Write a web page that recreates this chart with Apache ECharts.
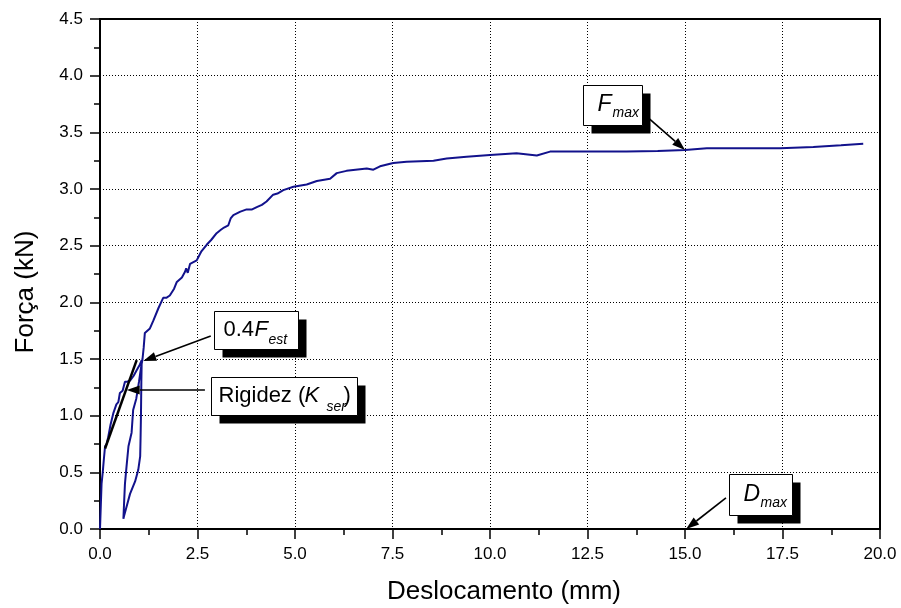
<!DOCTYPE html>
<html>
<head>
<meta charset="utf-8">
<script src="https://cdn.jsdelivr.net/npm/echarts@6/dist/echarts.min.js"></script>
<style>
html,body{margin:0;padding:0;background:#fff;}
#c{width:901px;height:608px;}
</style>
</head>
<body>
<div id="c"></div>
<script>
// ---- data ----
const xVals = [0.0,0.02,0.04,0.07,0.10,0.13,0.17,0.21,0.27,0.30,0.34,0.42,0.47,0.51,0.58,0.64,0.70,0.77,0.86,0.94,1.02,1.07,
  1.06,1.05,1.04,1.03,0.98,0.90,0.77,0.70,0.62,0.60,
  0.62,0.64,0.68,0.73,0.76,0.81,0.85,0.93,1.00,1.05,1.09,
  1.12,1.15,1.20,1.28,1.37,1.50,1.62,1.70,1.79,1.90,1.97,2.10,2.18,2.21,2.25,2.31,2.48,2.60,2.74,2.85,2.99,3.10,3.18,3.29,3.35,3.42,3.60,3.76,3.90,4.02,4.15,4.27,4.44,4.55,4.70,4.96,5.30,5.56,5.90,6.07,6.32,6.84,7.01,7.18,7.52,7.86,8.55,8.89,9.40,10.0,10.68,11.2,11.54,12.5,13.5,14.3,15.0,15.56,16.5,17.44,18.29,19.0,19.57];
const yVals = [0.0,0.20,0.40,0.50,0.62,0.73,0.75,0.81,0.92,0.93,1.02,1.10,1.12,1.20,1.22,1.30,1.30,1.31,1.35,1.40,1.45,1.49,
  1.30,1.00,0.80,0.64,0.52,0.42,0.31,0.22,0.12,0.09,
  0.25,0.40,0.55,0.73,0.74,0.85,1.05,1.15,1.30,1.42,1.50,
  1.60,1.73,1.74,1.77,1.84,1.95,2.04,2.04,2.06,2.12,2.18,2.22,2.27,2.30,2.26,2.34,2.37,2.45,2.51,2.55,2.61,2.64,2.66,2.68,2.74,2.77,2.80,2.82,2.82,2.84,2.86,2.89,2.95,2.96,2.99,3.02,3.04,3.07,3.09,3.14,3.16,3.18,3.17,3.20,3.23,3.24,3.25,3.27,3.285,3.30,3.315,3.295,3.33,3.33,3.33,3.335,3.345,3.36,3.36,3.36,3.37,3.385,3.40];
const tangentX = [0.13, 0.94];
const tangentY = [0.71, 1.49];

// annotation anchors (data coordinates)
const fmaxBoxAt = [12.38, 3.918], fmaxArrowFrom = [14.05, 3.63], fmaxArrowTo = [15.0, 3.344];
const festBoxAt = [2.92, 1.924],  festArrowFrom = [2.84, 1.703], festArrowTo = [1.11, 1.482];
const kserBoxAt = [2.85, 1.341],  kserArrowFrom = [2.69, 1.226], kserArrowTo = [0.685, 1.226];
const dmaxBoxAt = [16.13, 0.485], dmaxArrowFrom = [16.05, 0.274], dmaxArrowTo = [15.03, 0.0];

const FONT = "'Liberation Sans', Arial, Helvetica, sans-serif";

const chart = echarts.init(document.getElementById('c'), null, {renderer: 'canvas'});

const axisCommon = {
  type: 'value',
  axisLine: {show: true, onZero: false, lineStyle: {color: '#000', width: 2}},
  axisTick: {show: true, inside: false, length: 10, lineStyle: {color: '#000', width: 1.5}},
  minorTick: {show: true, splitNumber: 2, length: 6, lineStyle: {color: '#000', width: 1.5}},
  splitLine: {show: true, lineStyle: {color: '#000', width: 1, type: [1, 2]}},
  axisLabel: {color: '#000', fontSize: 17, fontFamily: FONT, formatter: v => v.toFixed(1)}
};

const option = {
  animation: false,
  backgroundColor: '#fff',
  grid: {left: 100, right: 21, top: 19, bottom: 79, show: true, borderColor: '#000', borderWidth: 2, backgroundColor: 'transparent'},
  xAxis: Object.assign({}, axisCommon, {min: 0, max: 20, interval: 2.5,
    axisLabel: Object.assign({}, axisCommon.axisLabel, {margin: 17})}),
  yAxis: Object.assign({}, axisCommon, {min: 0, max: 4.5, interval: 0.5,
    axisLabel: Object.assign({}, axisCommon.axisLabel, {margin: 17})}),
  series: [
    {type: 'line', data: xVals.map((x, i) => [x, yVals[i]]), showSymbol: false, symbol: 'none',
     lineStyle: {color: '#12128c', width: 2}, z: 3},
    {type: 'line', data: tangentX.map((x, i) => [x, tangentY[i]]), showSymbol: false, symbol: 'none',
     lineStyle: {color: '#000', width: 2.5}, z: 4}
  ]
};
chart.setOption(option);

function px(p) { return chart.convertToPixel({gridIndex: 0}, p); }

function arrow(from, to) {
  const a = px(from), b = px(to);
  const dx = b[0] - a[0], dy = b[1] - a[1];
  const len = Math.sqrt(dx * dx + dy * dy);
  const ux = dx / len, uy = dy / len;
  const L = 13, W = 9;
  const bx = b[0] - ux * L, by = b[1] - uy * L;
  return [
    {type: 'line', z: 20, shape: {x1: a[0], y1: a[1], x2: bx, y2: by}, style: {stroke: '#000', lineWidth: 1.6}},
    {type: 'polygon', z: 20, shape: {points: [[b[0], b[1]], [bx - uy * W / 2, by + ux * W / 2], [bx + uy * W / 2, by - ux * W / 2]]},
     style: {fill: '#000'}}
  ];
}

function box(at, w, h, parts) {
  const p = px(at);
  const children = [
    {type: 'rect', shape: {x: 8, y: 8, width: w, height: h}, style: {fill: '#000'}},
    {type: 'rect', shape: {x: 0, y: 0, width: w, height: h}, style: {fill: '#fff', stroke: '#000', lineWidth: 1}}
  ];
  parts.forEach(t => children.push({type: 'text', x: t[1], y: t[2],
    style: {text: t[0], fontSize: t[3], fontStyle: t[4] ? 'italic' : 'normal', fontFamily: FONT,
            fill: '#000', align: 'left', verticalAlign: 'middle'}}));
  return {type: 'group', x: Math.round(p[0]) + 0.5, y: Math.round(p[1]) + 0.5, z: 30, children: children};
}

const graphics = [];
graphics.push(...arrow(fmaxArrowFrom, fmaxArrowTo));
graphics.push(...arrow(festArrowFrom, festArrowTo));
graphics.push(...arrow(kserArrowFrom, kserArrowTo));
graphics.push(...arrow(dmaxArrowFrom, dmaxArrowTo));
graphics.push(box(fmaxBoxAt, 59, 40, [['F', 14, 19, 23, true], ['max', 29, 28, 14, true]]));
graphics.push(box(festBoxAt, 84, 38, [['0.4', 9, 18.5, 22, false], ['F', 40, 18.5, 22, true], ['est', 54, 29, 14, true]]));
graphics.push(box(kserBoxAt, 146, 38, [['Rigidez (', 7, 18.5, 22, false], ['K', 93, 18.5, 22, true], ['ser', 115, 30, 14, true], [')', 132, 18.5, 22, false]]));
graphics.push(box(dmaxBoxAt, 63, 41, [['D', 14, 20, 23, true], ['max', 31, 29, 14, true]]));
// axis titles
graphics.push({type: 'text', x: 504, y: 592, style: {text: 'Deslocamento (mm)', fontSize: 26, fontFamily: FONT, fill: '#000', align: 'center', verticalAlign: 'middle'}});
graphics.push({type: 'text', x: 26, y: 292, rotation: Math.PI / 2, style: {text: 'Força (kN)', fontSize: 26, fontFamily: FONT, fill: '#000', align: 'center', verticalAlign: 'middle'}});

chart.setOption({graphic: graphics});
</script>
</body>
</html>
